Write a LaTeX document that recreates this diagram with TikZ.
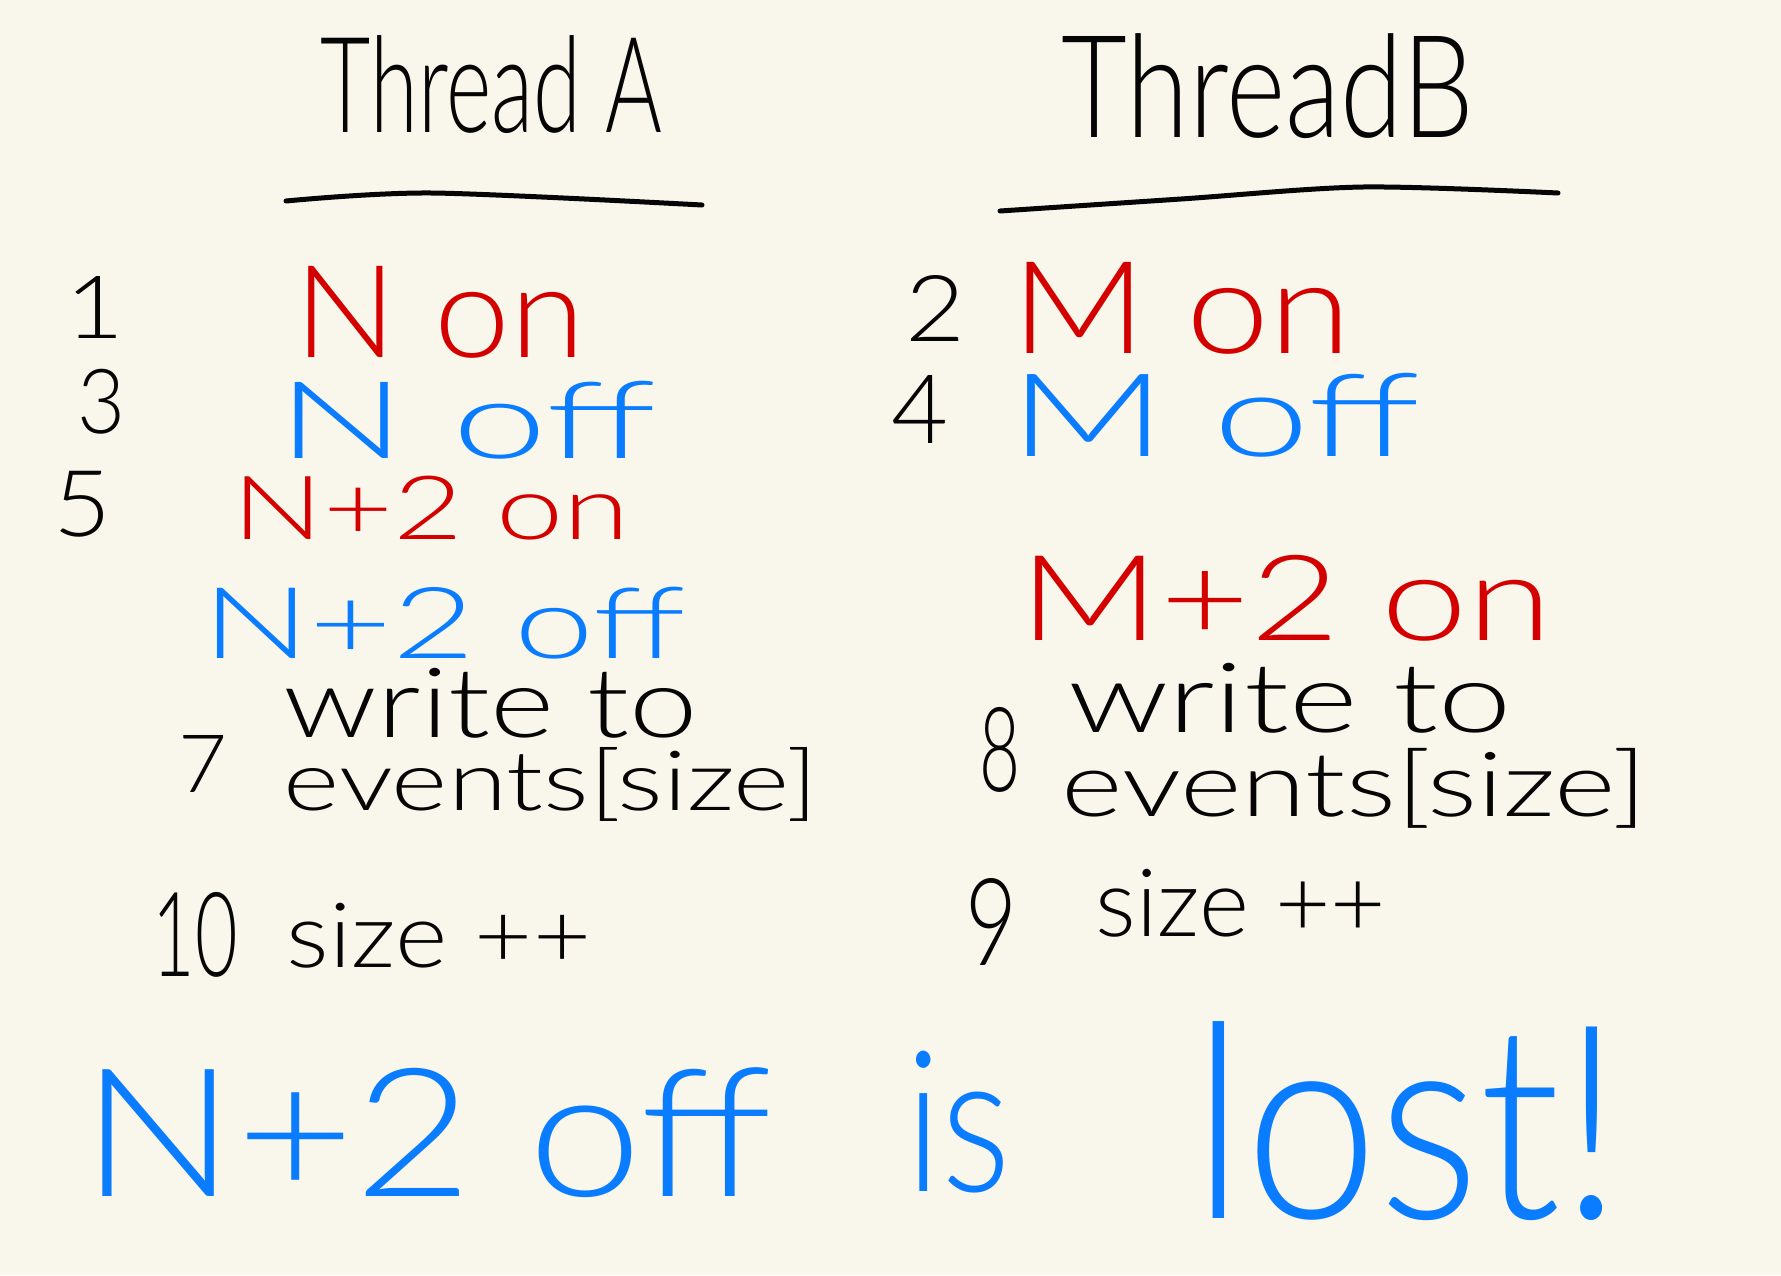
\documentclass[tikz,border=0pt]{standalone}
\usepackage{fontspec}
\setmainfont{Lato Light}
\definecolor{bgc}{HTML}{F9F7EB}
\definecolor{hwred}{HTML}{D40000}
\definecolor{hwblue}{HTML}{0A7CFF}
\definecolor{hwblack}{HTML}{050505}
\newcommand\hwtext[3]{\resizebox*{#1pt}{#2pt}{#3}}
\tikzset{
  hw/.style={inner sep=0pt, outer sep=0pt, anchor=center, font=\fontsize{40}{40}\selectfont},
  blk/.style={hw, text=hwblack},
  rd/.style={hw, text=hwred},
  bl/.style={hw, text=hwblue},
  rule/.style={draw=hwblack, line width=5pt, line cap=round}
}
\begin{document}
\begin{tikzpicture}[x=1pt,y=-1pt]
\fill[bgc] (0,0) rectangle (1781,1275);
\useasboundingbox (0,0) rectangle (1781,1275);
% headings
\node[blk] (ta) at (491.5,85) {\hwtext{341}{98}{Thread A}};
\node[blk] (tb) at (1268,86.5) {\hwtext{412}{105}{ThreadB}};
\coordinate (la1) at (286,201); \coordinate (la2) at (432,193); \coordinate (la3) at (702,205);
\coordinate (lb1) at (1000,211); \coordinate (lb2) at (1181,199); \coordinate (lb3) at (1363,187); \coordinate (lb4) at (1558,193);
\draw[rule] plot[smooth] coordinates {(la1) (la2) (la3)};
\draw[rule] plot[smooth] coordinates {(lb1) (lb2) (lb3) (lb4)};
% Thread A column
\node[blk] (n1) at (95.5,307) {\hwtext{59}{62}{1}};
\node[rd] (a1) at (440,312) {\hwtext{290}{92}{N on}};
\node[blk] (n3) at (101,401.5) {\hwtext{48}{65}{3}};
\node[bl] (a3) at (467,420) {\hwtext{378}{78}{N off}};
\node[blk] (n5) at (82,504) {\hwtext{58}{66}{5}};
\node[rd] (a5) at (431.5,508) {\hwtext{397}{64}{N+2 on}};
\node[bl] (a6) at (443.5,623) {\hwtext{483}{72}{N+2 off}};
\node[blk] (a7a) at (491,703) {\hwtext{414}{70}{write to}};
\node[blk] (n7) at (202.5,763.5) {\hwtext{49}{57}{7}};
\node[blk] (a7b) at (551,784) {\hwtext{534}{74}{events[size]}};
\node[blk] (n10) at (195.5,934.5) {\hwtext{85}{85}{10}};
\node[blk] (a10) at (439,935.5) {\hwtext{304}{65}{size ++}};
% Thread B column
\node[blk] (n2) at (935,308) {\hwtext{60}{66}{2}};
\node[rd] (b2) at (1181.5,308) {\hwtext{341}{92}{M on}};
\node[blk] (n4) at (919.5,409) {\hwtext{57}{68}{4}};
\node[bl] (b4) at (1214.5,415) {\hwtext{411}{84}{M off}};
\node[rd] (b6) at (1286.5,598) {\hwtext{533}{86}{M+2 on}};
\node[blk] (b8a) at (1289.5,698) {\hwtext{443}{70}{write to}};
\node[blk] (n8) at (999.5,749.5) {\hwtext{41}{85}{8}};
\node[blk] (b8b) at (1354.5,788) {\hwtext{585}{80}{events[size]}};
\node[blk] (n9) at (991,921.5) {\hwtext{52}{87}{9}};
\node[blk] (b9) at (1241,903) {\hwtext{290}{68}{size ++}};
% conclusion
\node[bl] (c1) at (427,1133) {\hwtext{690}{130}{N+2 off}};
\node[bl] (c2) at (958,1122) {\hwtext{106}{142}{is}};
\node[bl] (c3) at (1407.5,1121.5) {\hwtext{429}{199}{lost!}};
\end{tikzpicture}
\end{document}
